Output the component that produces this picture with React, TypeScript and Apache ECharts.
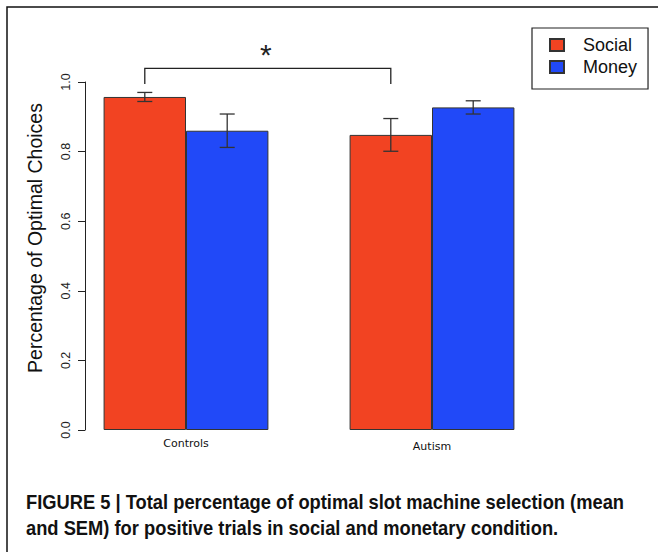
import React, { useEffect, useRef } from "react";
import * as echarts from "echarts";

const categories = ["Controls", "Autism"];
const seriesNames = ["Social", "Money"];
const socialMean = [0.957, 0.848];
const socialSem = [0.013, 0.047];
const moneyMean = [0.86, 0.927];
const moneySem = [0.048, 0.019];
const bracketTop = 1.039;
const bracketEnd = 0.994;
const starLevel = 1.078;
const yTitle = "Percentage of Optimal Choices";
const caption1 = "FIGURE 5 | Total percentage of optimal slot machine selection (mean";
const caption2 = "and SEM) for positive trials in social and monetary condition.";

const RED = "#F24322";
const BLUE = "#2149F8";
const CAT_GAP = 0.33;

export default function App() {
  const ref = useRef<HTMLDivElement>(null);
  useEffect(() => {
    if (!ref.current) return;
    const chart = echarts.init(ref.current, null, { renderer: "svg" });
    const errData: number[][] = [];
    categories.forEach((_, i) => {
      errData.push([i, socialMean[i], socialSem[i], 0]);
      errData.push([i, moneyMean[i], moneySem[i], 1]);
    });
    const captionStyle = {
      fontFamily: "Liberation Sans, Arial, sans-serif",
      fontWeight: "bold",
      fontSize: 19.5,
      fill: "#111",
      verticalAlign: "middle",
    };
    chart.setOption({
      animation: false,
      backgroundColor: "#fff",
      grid: { left: 63, right: 103, top: 82, bottom: 122 },
      legend: {
        left: 532,
        top: 28,
        orient: "vertical",
        icon: "rect",
        itemWidth: 14,
        itemHeight: 12,
        itemGap: 4,
        padding: [8, 11, 13, 17],
        borderColor: "#222",
        borderWidth: 1.2,
        data: seriesNames,
        textStyle: {
          fontFamily: "Liberation Sans, Arial, sans-serif",
          fontSize: 18,
          color: "#111",
          padding: [0, 0, 0, 14],
          lineHeight: 18,
        },
      },
      xAxis: {
        type: "category",
        data: categories,
        axisLine: { show: false },
        axisTick: { show: false },
        axisLabel: {
          margin: 8,
          formatter: (v: string, i: number) => (i === 1 ? `{b|${v}}` : `{a|${v}}`),
          rich: {
            a: { fontFamily: "DejaVu Sans, sans-serif", fontSize: 11, color: "#111" },
            b: { fontFamily: "DejaVu Sans, sans-serif", fontSize: 11, color: "#111", padding: [3, 0, 0, 0] },
          },
        },
      },
      yAxis: {
        type: "value",
        min: 0,
        max: 1,
        interval: 0.2,
        offset: -22,
        splitLine: { show: false },
        axisLine: { show: true, lineStyle: { color: "#222", width: 1 } },
        axisTick: { show: true, length: 7, lineStyle: { color: "#222" } },
        axisLabel: {
          rotate: 90,
          margin: 13,
          fontFamily: "Liberation Sans, Arial, sans-serif",
          fontSize: 12.5,
          color: "#222",
          formatter: (v: number) => v.toFixed(1),
        },
      },
      series: [
        {
          name: seriesNames[0],
          type: "bar",
          data: socialMean,
          barGap: "0%",
          barCategoryGap: CAT_GAP * 100 + "%",
          itemStyle: { color: RED, borderColor: "#333", borderWidth: 1 },
        },
        {
          name: seriesNames[1],
          type: "bar",
          data: moneyMean,
          barGap: "0%",
          barCategoryGap: CAT_GAP * 100 + "%",
          itemStyle: { color: BLUE, borderColor: "#333", borderWidth: 1 },
        },
        {
          type: "custom",
          data: errData,
          z: 10,
          renderItem: (params: any, api: any) => {
            const cat = api.value(0);
            const m = api.value(1);
            const s = api.value(2);
            const idx = api.value(3);
            const band = api.size([1, 0])[0];
            const barW = (band * (1 - CAT_GAP)) / 2;
            const c = api.coord([cat, m]);
            const x = c[0] + (idx === 0 ? -barW / 2 : barW / 2);
            const hi = api.coord([cat, m + s])[1];
            const lo = api.coord([cat, m - s])[1];
            const w = 7.5;
            const st = { stroke: "#333", lineWidth: 1.3 };
            return {
              type: "group",
              children: [
                { type: "line", shape: { x1: x, y1: hi, x2: x, y2: lo }, style: st },
                { type: "line", shape: { x1: x - w, y1: hi, x2: x + w, y2: hi }, style: st },
                { type: "line", shape: { x1: x - w, y1: lo, x2: x + w, y2: lo }, style: st },
              ],
            };
          },
        },
        {
          type: "custom",
          data: [[0, 1, bracketTop, bracketEnd]],
          clip: false,
          z: 10,
          renderItem: (params: any, api: any) => {
            const band = api.size([1, 0])[0];
            const barW = (band * (1 - CAT_GAP)) / 2;
            const xa = api.coord([api.value(0), 0])[0] - barW / 2;
            const xb = api.coord([api.value(1), 0])[0] - barW / 2;
            const yt = api.coord([0, api.value(2)])[1];
            const ye = api.coord([0, api.value(3)])[1];
            const ys = api.coord([0, starLevel])[1];
            return {
              type: "group",
              children: [
                {
                  type: "polyline",
                  shape: { points: [[xa, ye], [xa, yt], [xb, yt], [xb, ye]] },
                  style: { stroke: "#222", lineWidth: 1.3, fill: "none" },
                },
                {
                  type: "text",
                  x: (xa + xb) / 2 - 2,
                  y: ys,
                  style: {
                    text: "*",
                    fontFamily: "Liberation Sans, Arial, sans-serif",
                    fontSize: 30,
                    fill: "#222",
                    align: "center",
                    verticalAlign: "middle",
                  },
                },
              ],
            };
          },
        },
      ],
      graphic: [
        {
          type: "rect",
          shape: { x: 7, y: 7, width: 700, height: 600 },
          style: { fill: "none", stroke: "#111", lineWidth: 1.5 },
          silent: true,
        },
        {
          type: "text",
          x: 35,
          y: 238,
          rotation: Math.PI / 2,
          style: {
            text: yTitle,
            fontFamily: "Liberation Sans, Arial, sans-serif",
            fontSize: 19.5,
            fill: "#111",
            align: "center",
            verticalAlign: "middle",
          },
        },
        {
          type: "text",
          x: 26,
          y: 502,
          scaleX: 0.94,
          style: { ...captionStyle, text: caption1 },
        },
        {
          type: "text",
          x: 26,
          y: 528,
          scaleX: 0.94,
          style: { ...captionStyle, text: caption2 },
        },
      ],
    });
    return () => chart.dispose();
  }, []);
  return (
    <div
      ref={ref}
      style={{ position: "absolute", left: 0, top: 0, width: 658, height: 552, background: "#fff" }}
    />
  );
}
